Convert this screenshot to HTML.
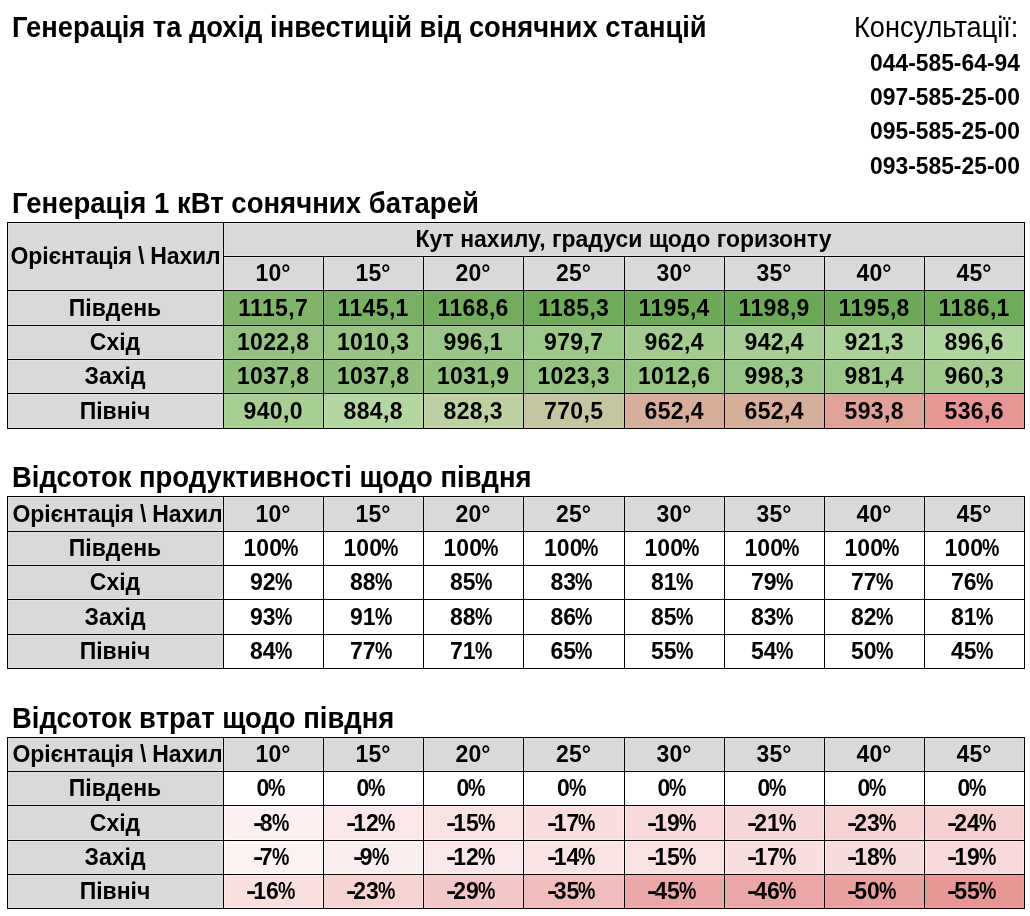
<!DOCTYPE html>
<html><head><meta charset="utf-8"><style>
html,body{margin:0;padding:0;background:#fff;-webkit-font-smoothing:antialiased;}
body{width:1030px;height:916px;position:relative;overflow:hidden;font-family:"Liberation Sans",sans-serif;color:#000;}
.c{position:absolute;display:flex;align-items:center;justify-content:center;font-weight:bold;font-size:23px;white-space:nowrap;}
.c span{position:relative;text-shadow:0 0 1px var(--h),0 0 1px var(--h);}
.c::before{content:"";position:absolute;left:1px;top:1px;right:0;bottom:0;border:1px solid var(--h);}
.pc{display:inline-block;transform:scaleX(.85);transform-origin:0 50%;margin-left:-1px;}
.hy{display:inline-block;transform:scaleX(1.35);transform-origin:0 50%;margin-right:-0.5px;}
i{position:absolute;background:#000;display:block;}
.tx{position:absolute;white-space:nowrap;line-height:1;}
#w{position:absolute;left:0;top:0;width:1030px;height:916px;will-change:transform;}
</style></head><body><div id="w">
<div class="tx" style="left:12px;top:13px;font-size:27px;font-weight:bold;transform:scale(1.012,1.08);transform-origin:0 0">Генерація та дохід інвестицій від сонячних станцій</div>
<div class="tx" style="right:12px;top:13px;font-size:27px;font-weight:normal;transform:scale(1.006,1.08);transform-origin:100% 0">Консультації:</div>
<div class="tx" style="right:10px;top:52px;font-size:23px;font-weight:bold;transform:scale(0.993,1.0);transform-origin:100% 0">044-585-64-94</div>
<div class="tx" style="right:10px;top:86px;font-size:23px;font-weight:bold;transform:scale(0.993,1.0);transform-origin:100% 0">097-585-25-00</div>
<div class="tx" style="right:10px;top:120px;font-size:23px;font-weight:bold;transform:scale(0.993,1.0);transform-origin:100% 0">095-585-25-00</div>
<div class="tx" style="right:10px;top:155px;font-size:23px;font-weight:bold;transform:scale(0.993,1.0);transform-origin:100% 0">093-585-25-00</div>
<div class="tx" style="left:12px;top:189px;font-size:27px;font-weight:bold;transform:scale(1.02,1.08);transform-origin:0 0">Генерація 1 кВт сонячних батарей</div>
<div class="tx" style="left:12px;top:463px;font-size:27px;font-weight:bold;transform:scale(1.016,1.08);transform-origin:0 0">Відсоток продуктивності щодо півдня</div>
<div class="tx" style="left:12px;top:704px;font-size:27px;font-weight:bold;transform:scale(1.017,1.08);transform-origin:0 0">Відсоток втрат щодо півдня</div>
<div class="c" style="left:7px;top:222px;width:216px;height:68px;background:#d9d9d9;--h:#e1e1e1"><span style="top:0.5px;letter-spacing:-0.18px;left:0.5px;">Орієнтація \ Нахил</span></div>
<div class="c" style="left:223px;top:222px;width:801px;height:34px;background:#d9d9d9;--h:#e1e1e1"><span style="top:0.5px;">Кут нахилу, градуси щодо горизонту</span></div>
<div class="c" style="left:223px;top:256px;width:100px;height:34px;background:#d9d9d9;--h:#e1e1e1"><span style="top:0.5px;">10°</span></div>
<div class="c" style="left:323px;top:256px;width:100px;height:34px;background:#d9d9d9;--h:#e1e1e1"><span style="top:0.5px;">15°</span></div>
<div class="c" style="left:423px;top:256px;width:100px;height:34px;background:#d9d9d9;--h:#e1e1e1"><span style="top:0.5px;">20°</span></div>
<div class="c" style="left:523px;top:256px;width:101px;height:34px;background:#d9d9d9;--h:#e1e1e1"><span style="top:0.5px;">25°</span></div>
<div class="c" style="left:624px;top:256px;width:100px;height:34px;background:#d9d9d9;--h:#e1e1e1"><span style="top:0.5px;">30°</span></div>
<div class="c" style="left:724px;top:256px;width:100px;height:34px;background:#d9d9d9;--h:#e1e1e1"><span style="top:0.5px;">35°</span></div>
<div class="c" style="left:824px;top:256px;width:100px;height:34px;background:#d9d9d9;--h:#e1e1e1"><span style="top:0.5px;">40°</span></div>
<div class="c" style="left:924px;top:256px;width:100px;height:34px;background:#d9d9d9;--h:#e1e1e1"><span style="top:0.5px;">45°</span></div>
<div class="c" style="left:7px;top:290px;width:216px;height:35px;background:#d9d9d9;--h:#e1e1e1"><span style="top:0.5px;">Південь</span></div>
<div class="c" style="left:223px;top:290px;width:100px;height:35px;background:#80b46b;--h:#84ba6f"><span style="top:0.5px;letter-spacing:0.35px;margin-right:-0.35px;">1115,7</span></div>
<div class="c" style="left:323px;top:290px;width:100px;height:35px;background:#79b065;--h:#7db669"><span style="top:0.5px;letter-spacing:0.35px;margin-right:-0.35px;">1145,1</span></div>
<div class="c" style="left:423px;top:290px;width:100px;height:35px;background:#74ac5f;--h:#78b262"><span style="top:0.5px;letter-spacing:0.35px;margin-right:-0.35px;">1168,6</span></div>
<div class="c" style="left:523px;top:290px;width:101px;height:35px;background:#70aa5b;--h:#74b05e"><span style="top:0.5px;letter-spacing:0.35px;margin-right:-0.35px;">1185,3</span></div>
<div class="c" style="left:624px;top:290px;width:100px;height:35px;background:#6ea959;--h:#72af5c"><span style="top:0.5px;letter-spacing:0.35px;margin-right:-0.35px;">1195,4</span></div>
<div class="c" style="left:724px;top:290px;width:100px;height:35px;background:#6da858;--h:#71ae5b"><span style="top:0.5px;letter-spacing:0.35px;margin-right:-0.35px;">1198,9</span></div>
<div class="c" style="left:824px;top:290px;width:100px;height:35px;background:#6ea859;--h:#72ae5c"><span style="top:0.5px;letter-spacing:0.35px;margin-right:-0.35px;">1195,8</span></div>
<div class="c" style="left:924px;top:290px;width:100px;height:35px;background:#70aa5b;--h:#74b05e"><span style="top:0.5px;letter-spacing:0.35px;margin-right:-0.35px;">1186,1</span></div>
<div class="c" style="left:7px;top:325px;width:216px;height:34px;background:#d9d9d9;--h:#e1e1e1"><span style="top:0.5px;">Схід</span></div>
<div class="c" style="left:223px;top:325px;width:100px;height:34px;background:#95c281;--h:#9ac986"><span style="top:0.5px;letter-spacing:0.35px;margin-right:-0.35px;">1022,8</span></div>
<div class="c" style="left:323px;top:325px;width:100px;height:34px;background:#98c484;--h:#9dcb89"><span style="top:0.5px;letter-spacing:0.35px;margin-right:-0.35px;">1010,3</span></div>
<div class="c" style="left:423px;top:325px;width:100px;height:34px;background:#9bc687;--h:#a0cd8c"><span style="top:0.5px;letter-spacing:0.35px;margin-right:-0.35px;">996,1</span></div>
<div class="c" style="left:523px;top:325px;width:101px;height:34px;background:#9fc88b;--h:#a5cf90"><span style="top:0.5px;letter-spacing:0.35px;margin-right:-0.35px;">979,7</span></div>
<div class="c" style="left:624px;top:325px;width:100px;height:34px;background:#a3cb8f;--h:#a9d294"><span style="top:0.5px;letter-spacing:0.35px;margin-right:-0.35px;">962,4</span></div>
<div class="c" style="left:724px;top:325px;width:100px;height:34px;background:#a7ce94;--h:#add599"><span style="top:0.5px;letter-spacing:0.35px;margin-right:-0.35px;">942,4</span></div>
<div class="c" style="left:824px;top:325px;width:100px;height:34px;background:#acd199;--h:#b2d89e"><span style="top:0.5px;letter-spacing:0.35px;margin-right:-0.35px;">921,3</span></div>
<div class="c" style="left:924px;top:325px;width:100px;height:34px;background:#b1d59e;--h:#b7dca4"><span style="top:0.5px;letter-spacing:0.35px;margin-right:-0.35px;">896,6</span></div>
<div class="c" style="left:7px;top:359px;width:216px;height:34px;background:#d9d9d9;--h:#e1e1e1"><span style="top:0.5px;">Захід</span></div>
<div class="c" style="left:223px;top:359px;width:100px;height:34px;background:#91c07d;--h:#96c781"><span style="top:0.5px;letter-spacing:0.35px;margin-right:-0.35px;">1037,8</span></div>
<div class="c" style="left:323px;top:359px;width:100px;height:34px;background:#91c07d;--h:#96c781"><span style="top:0.5px;letter-spacing:0.35px;margin-right:-0.35px;">1037,8</span></div>
<div class="c" style="left:423px;top:359px;width:100px;height:34px;background:#93c17f;--h:#98c883"><span style="top:0.5px;letter-spacing:0.35px;margin-right:-0.35px;">1031,9</span></div>
<div class="c" style="left:523px;top:359px;width:101px;height:34px;background:#95c281;--h:#9ac986"><span style="top:0.5px;letter-spacing:0.35px;margin-right:-0.35px;">1023,3</span></div>
<div class="c" style="left:624px;top:359px;width:100px;height:34px;background:#97c483;--h:#9ccb88"><span style="top:0.5px;letter-spacing:0.35px;margin-right:-0.35px;">1012,6</span></div>
<div class="c" style="left:724px;top:359px;width:100px;height:34px;background:#9ac687;--h:#9fcd8c"><span style="top:0.5px;letter-spacing:0.35px;margin-right:-0.35px;">998,3</span></div>
<div class="c" style="left:824px;top:359px;width:100px;height:34px;background:#9ec88b;--h:#a4cf90"><span style="top:0.5px;letter-spacing:0.35px;margin-right:-0.35px;">981,4</span></div>
<div class="c" style="left:924px;top:359px;width:100px;height:34px;background:#a3cb8f;--h:#a9d294"><span style="top:0.5px;letter-spacing:0.35px;margin-right:-0.35px;">960,3</span></div>
<div class="c" style="left:7px;top:393px;width:216px;height:35px;background:#d9d9d9;--h:#e1e1e1"><span style="top:0.5px;">Північ</span></div>
<div class="c" style="left:223px;top:393px;width:100px;height:35px;background:#a8ce94;--h:#aed599"><span style="top:0.5px;letter-spacing:0.35px;margin-right:-0.35px;">940,0</span></div>
<div class="c" style="left:323px;top:393px;width:100px;height:35px;background:#b4d6a1;--h:#badda7"><span style="top:0.5px;letter-spacing:0.35px;margin-right:-0.35px;">884,8</span></div>
<div class="c" style="left:423px;top:393px;width:100px;height:35px;background:#bed1a3;--h:#c5d8a9"><span style="top:0.5px;letter-spacing:0.35px;margin-right:-0.35px;">828,3</span></div>
<div class="c" style="left:523px;top:393px;width:101px;height:35px;background:#c6c5a1;--h:#cdcca7"><span style="top:0.5px;letter-spacing:0.35px;margin-right:-0.35px;">770,5</span></div>
<div class="c" style="left:624px;top:393px;width:100px;height:35px;background:#d7ad9b;--h:#dfb3a0"><span style="top:0.5px;letter-spacing:0.35px;margin-right:-0.35px;">652,4</span></div>
<div class="c" style="left:724px;top:393px;width:100px;height:35px;background:#d7ad9b;--h:#dfb3a0"><span style="top:0.5px;letter-spacing:0.35px;margin-right:-0.35px;">652,4</span></div>
<div class="c" style="left:824px;top:393px;width:100px;height:35px;background:#e0a199;--h:#e8a79e"><span style="top:0.5px;letter-spacing:0.35px;margin-right:-0.35px;">593,8</span></div>
<div class="c" style="left:924px;top:393px;width:100px;height:35px;background:#e89596;--h:#f09a9b"><span style="top:0.5px;letter-spacing:0.35px;margin-right:-0.35px;">536,6</span></div>
<i style="left:7px;top:222px;width:1018px;height:1px"></i>
<i style="left:223px;top:256px;width:802px;height:1px"></i>
<i style="left:7px;top:290px;width:1018px;height:1px"></i>
<i style="left:7px;top:325px;width:1018px;height:1px"></i>
<i style="left:7px;top:359px;width:1018px;height:1px"></i>
<i style="left:7px;top:393px;width:1018px;height:1px"></i>
<i style="left:7px;top:428px;width:1018px;height:1px"></i>
<i style="left:7px;top:222px;width:1px;height:207px"></i>
<i style="left:223px;top:222px;width:1px;height:207px"></i>
<i style="left:1024px;top:222px;width:1px;height:207px"></i>
<i style="left:323px;top:256px;width:1px;height:173px"></i>
<i style="left:423px;top:256px;width:1px;height:173px"></i>
<i style="left:523px;top:256px;width:1px;height:173px"></i>
<i style="left:624px;top:256px;width:1px;height:173px"></i>
<i style="left:724px;top:256px;width:1px;height:173px"></i>
<i style="left:824px;top:256px;width:1px;height:173px"></i>
<i style="left:924px;top:256px;width:1px;height:173px"></i>
<div class="c" style="left:7px;top:496px;width:216px;height:35px;background:#d9d9d9;--h:#e1e1e1"><span style="top:0.5px;letter-spacing:-0.18px;left:2.5px;">Орієнтація \ Нахил</span></div>
<div class="c" style="left:223px;top:496px;width:100px;height:35px;background:#d9d9d9;--h:#e1e1e1"><span style="top:0.5px;">10°</span></div>
<div class="c" style="left:323px;top:496px;width:100px;height:35px;background:#d9d9d9;--h:#e1e1e1"><span style="top:0.5px;">15°</span></div>
<div class="c" style="left:423px;top:496px;width:100px;height:35px;background:#d9d9d9;--h:#e1e1e1"><span style="top:0.5px;">20°</span></div>
<div class="c" style="left:523px;top:496px;width:101px;height:35px;background:#d9d9d9;--h:#e1e1e1"><span style="top:0.5px;">25°</span></div>
<div class="c" style="left:624px;top:496px;width:100px;height:35px;background:#d9d9d9;--h:#e1e1e1"><span style="top:0.5px;">30°</span></div>
<div class="c" style="left:724px;top:496px;width:100px;height:35px;background:#d9d9d9;--h:#e1e1e1"><span style="top:0.5px;">35°</span></div>
<div class="c" style="left:824px;top:496px;width:100px;height:35px;background:#d9d9d9;--h:#e1e1e1"><span style="top:0.5px;">40°</span></div>
<div class="c" style="left:924px;top:496px;width:100px;height:35px;background:#d9d9d9;--h:#e1e1e1"><span style="top:0.5px;">45°</span></div>
<div class="c" style="left:7px;top:531px;width:216px;height:34px;background:#d9d9d9;--h:#e1e1e1"><span style="top:0.5px;">Південь</span></div>
<div class="c" style="left:223px;top:531px;width:100px;height:34px;background:#ffffff;--h:#ffffff"><span style="top:0.5px;left:-0.5px;">100<b class="pc">%</b></span></div>
<div class="c" style="left:323px;top:531px;width:100px;height:34px;background:#ffffff;--h:#ffffff"><span style="top:0.5px;left:-0.5px;">100<b class="pc">%</b></span></div>
<div class="c" style="left:423px;top:531px;width:100px;height:34px;background:#ffffff;--h:#ffffff"><span style="top:0.5px;left:-0.5px;">100<b class="pc">%</b></span></div>
<div class="c" style="left:523px;top:531px;width:101px;height:34px;background:#ffffff;--h:#ffffff"><span style="top:0.5px;left:-0.5px;">100<b class="pc">%</b></span></div>
<div class="c" style="left:624px;top:531px;width:100px;height:34px;background:#ffffff;--h:#ffffff"><span style="top:0.5px;left:-0.5px;">100<b class="pc">%</b></span></div>
<div class="c" style="left:724px;top:531px;width:100px;height:34px;background:#ffffff;--h:#ffffff"><span style="top:0.5px;left:-0.5px;">100<b class="pc">%</b></span></div>
<div class="c" style="left:824px;top:531px;width:100px;height:34px;background:#ffffff;--h:#ffffff"><span style="top:0.5px;left:-0.5px;">100<b class="pc">%</b></span></div>
<div class="c" style="left:924px;top:531px;width:100px;height:34px;background:#ffffff;--h:#ffffff"><span style="top:0.5px;left:-0.5px;">100<b class="pc">%</b></span></div>
<div class="c" style="left:7px;top:565px;width:216px;height:34px;background:#d9d9d9;--h:#e1e1e1"><span style="top:0.5px;">Схід</span></div>
<div class="c" style="left:223px;top:565px;width:100px;height:34px;background:#ffffff;--h:#ffffff"><span style="top:0.5px;left:-0.5px;">92<b class="pc">%</b></span></div>
<div class="c" style="left:323px;top:565px;width:100px;height:34px;background:#ffffff;--h:#ffffff"><span style="top:0.5px;left:-0.5px;">88<b class="pc">%</b></span></div>
<div class="c" style="left:423px;top:565px;width:100px;height:34px;background:#ffffff;--h:#ffffff"><span style="top:0.5px;left:-0.5px;">85<b class="pc">%</b></span></div>
<div class="c" style="left:523px;top:565px;width:101px;height:34px;background:#ffffff;--h:#ffffff"><span style="top:0.5px;left:-0.5px;">83<b class="pc">%</b></span></div>
<div class="c" style="left:624px;top:565px;width:100px;height:34px;background:#ffffff;--h:#ffffff"><span style="top:0.5px;left:-0.5px;">81<b class="pc">%</b></span></div>
<div class="c" style="left:724px;top:565px;width:100px;height:34px;background:#ffffff;--h:#ffffff"><span style="top:0.5px;left:-0.5px;">79<b class="pc">%</b></span></div>
<div class="c" style="left:824px;top:565px;width:100px;height:34px;background:#ffffff;--h:#ffffff"><span style="top:0.5px;left:-0.5px;">77<b class="pc">%</b></span></div>
<div class="c" style="left:924px;top:565px;width:100px;height:34px;background:#ffffff;--h:#ffffff"><span style="top:0.5px;left:-0.5px;">76<b class="pc">%</b></span></div>
<div class="c" style="left:7px;top:599px;width:216px;height:35px;background:#d9d9d9;--h:#e1e1e1"><span style="top:0.5px;">Захід</span></div>
<div class="c" style="left:223px;top:599px;width:100px;height:35px;background:#ffffff;--h:#ffffff"><span style="top:0.5px;left:-0.5px;">93<b class="pc">%</b></span></div>
<div class="c" style="left:323px;top:599px;width:100px;height:35px;background:#ffffff;--h:#ffffff"><span style="top:0.5px;left:-0.5px;">91<b class="pc">%</b></span></div>
<div class="c" style="left:423px;top:599px;width:100px;height:35px;background:#ffffff;--h:#ffffff"><span style="top:0.5px;left:-0.5px;">88<b class="pc">%</b></span></div>
<div class="c" style="left:523px;top:599px;width:101px;height:35px;background:#ffffff;--h:#ffffff"><span style="top:0.5px;left:-0.5px;">86<b class="pc">%</b></span></div>
<div class="c" style="left:624px;top:599px;width:100px;height:35px;background:#ffffff;--h:#ffffff"><span style="top:0.5px;left:-0.5px;">85<b class="pc">%</b></span></div>
<div class="c" style="left:724px;top:599px;width:100px;height:35px;background:#ffffff;--h:#ffffff"><span style="top:0.5px;left:-0.5px;">83<b class="pc">%</b></span></div>
<div class="c" style="left:824px;top:599px;width:100px;height:35px;background:#ffffff;--h:#ffffff"><span style="top:0.5px;left:-0.5px;">82<b class="pc">%</b></span></div>
<div class="c" style="left:924px;top:599px;width:100px;height:35px;background:#ffffff;--h:#ffffff"><span style="top:0.5px;left:-0.5px;">81<b class="pc">%</b></span></div>
<div class="c" style="left:7px;top:634px;width:216px;height:34px;background:#d9d9d9;--h:#e1e1e1"><span style="top:0.5px;">Північ</span></div>
<div class="c" style="left:223px;top:634px;width:100px;height:34px;background:#ffffff;--h:#ffffff"><span style="top:0.5px;left:-0.5px;">84<b class="pc">%</b></span></div>
<div class="c" style="left:323px;top:634px;width:100px;height:34px;background:#ffffff;--h:#ffffff"><span style="top:0.5px;left:-0.5px;">77<b class="pc">%</b></span></div>
<div class="c" style="left:423px;top:634px;width:100px;height:34px;background:#ffffff;--h:#ffffff"><span style="top:0.5px;left:-0.5px;">71<b class="pc">%</b></span></div>
<div class="c" style="left:523px;top:634px;width:101px;height:34px;background:#ffffff;--h:#ffffff"><span style="top:0.5px;left:-0.5px;">65<b class="pc">%</b></span></div>
<div class="c" style="left:624px;top:634px;width:100px;height:34px;background:#ffffff;--h:#ffffff"><span style="top:0.5px;left:-0.5px;">55<b class="pc">%</b></span></div>
<div class="c" style="left:724px;top:634px;width:100px;height:34px;background:#ffffff;--h:#ffffff"><span style="top:0.5px;left:-0.5px;">54<b class="pc">%</b></span></div>
<div class="c" style="left:824px;top:634px;width:100px;height:34px;background:#ffffff;--h:#ffffff"><span style="top:0.5px;left:-0.5px;">50<b class="pc">%</b></span></div>
<div class="c" style="left:924px;top:634px;width:100px;height:34px;background:#ffffff;--h:#ffffff"><span style="top:0.5px;left:-0.5px;">45<b class="pc">%</b></span></div>
<i style="left:7px;top:496px;width:1018px;height:1px"></i>
<i style="left:7px;top:531px;width:1018px;height:1px"></i>
<i style="left:7px;top:565px;width:1018px;height:1px"></i>
<i style="left:7px;top:599px;width:1018px;height:1px"></i>
<i style="left:7px;top:634px;width:1018px;height:1px"></i>
<i style="left:7px;top:668px;width:1018px;height:1px"></i>
<i style="left:7px;top:496px;width:1px;height:173px"></i>
<i style="left:223px;top:496px;width:1px;height:173px"></i>
<i style="left:323px;top:496px;width:1px;height:173px"></i>
<i style="left:423px;top:496px;width:1px;height:173px"></i>
<i style="left:523px;top:496px;width:1px;height:173px"></i>
<i style="left:624px;top:496px;width:1px;height:173px"></i>
<i style="left:724px;top:496px;width:1px;height:173px"></i>
<i style="left:824px;top:496px;width:1px;height:173px"></i>
<i style="left:924px;top:496px;width:1px;height:173px"></i>
<i style="left:1024px;top:496px;width:1px;height:173px"></i>
<div class="c" style="left:7px;top:737px;width:216px;height:34px;background:#d9d9d9;--h:#e1e1e1"><span style="top:0.5px;letter-spacing:-0.18px;left:2.5px;">Орієнтація \ Нахил</span></div>
<div class="c" style="left:223px;top:737px;width:100px;height:34px;background:#d9d9d9;--h:#e1e1e1"><span style="top:0.5px;">10°</span></div>
<div class="c" style="left:323px;top:737px;width:100px;height:34px;background:#d9d9d9;--h:#e1e1e1"><span style="top:0.5px;">15°</span></div>
<div class="c" style="left:423px;top:737px;width:100px;height:34px;background:#d9d9d9;--h:#e1e1e1"><span style="top:0.5px;">20°</span></div>
<div class="c" style="left:523px;top:737px;width:101px;height:34px;background:#d9d9d9;--h:#e1e1e1"><span style="top:0.5px;">25°</span></div>
<div class="c" style="left:624px;top:737px;width:100px;height:34px;background:#d9d9d9;--h:#e1e1e1"><span style="top:0.5px;">30°</span></div>
<div class="c" style="left:724px;top:737px;width:100px;height:34px;background:#d9d9d9;--h:#e1e1e1"><span style="top:0.5px;">35°</span></div>
<div class="c" style="left:824px;top:737px;width:100px;height:34px;background:#d9d9d9;--h:#e1e1e1"><span style="top:0.5px;">40°</span></div>
<div class="c" style="left:924px;top:737px;width:100px;height:34px;background:#d9d9d9;--h:#e1e1e1"><span style="top:0.5px;">45°</span></div>
<div class="c" style="left:7px;top:771px;width:216px;height:34px;background:#d9d9d9;--h:#e1e1e1"><span style="top:0.5px;">Південь</span></div>
<div class="c" style="left:223px;top:771px;width:100px;height:34px;background:#ffffff;--h:#ffffff"><span style="top:0.5px;left:-0.5px;">0<b class="pc">%</b></span></div>
<div class="c" style="left:323px;top:771px;width:100px;height:34px;background:#ffffff;--h:#ffffff"><span style="top:0.5px;left:-0.5px;">0<b class="pc">%</b></span></div>
<div class="c" style="left:423px;top:771px;width:100px;height:34px;background:#ffffff;--h:#ffffff"><span style="top:0.5px;left:-0.5px;">0<b class="pc">%</b></span></div>
<div class="c" style="left:523px;top:771px;width:101px;height:34px;background:#ffffff;--h:#ffffff"><span style="top:0.5px;left:-0.5px;">0<b class="pc">%</b></span></div>
<div class="c" style="left:624px;top:771px;width:100px;height:34px;background:#ffffff;--h:#ffffff"><span style="top:0.5px;left:-0.5px;">0<b class="pc">%</b></span></div>
<div class="c" style="left:724px;top:771px;width:100px;height:34px;background:#ffffff;--h:#ffffff"><span style="top:0.5px;left:-0.5px;">0<b class="pc">%</b></span></div>
<div class="c" style="left:824px;top:771px;width:100px;height:34px;background:#ffffff;--h:#ffffff"><span style="top:0.5px;left:-0.5px;">0<b class="pc">%</b></span></div>
<div class="c" style="left:924px;top:771px;width:100px;height:34px;background:#ffffff;--h:#ffffff"><span style="top:0.5px;left:-0.5px;">0<b class="pc">%</b></span></div>
<div class="c" style="left:7px;top:805px;width:216px;height:35px;background:#d9d9d9;--h:#e1e1e1"><span style="top:0.5px;">Схід</span></div>
<div class="c" style="left:223px;top:805px;width:100px;height:35px;background:#fcf0f0;--h:#fff8f8"><span style="top:0.5px;left:-0.75px;"><b class="hy">-</b>8<b class="pc">%</b></span></div>
<div class="c" style="left:323px;top:805px;width:100px;height:35px;background:#fae8e8;--h:#fff0f0"><span style="top:0.5px;left:-0.75px;"><b class="hy">-</b>12<b class="pc">%</b></span></div>
<div class="c" style="left:423px;top:805px;width:100px;height:35px;background:#f9e2e2;--h:#ffeaea"><span style="top:0.5px;left:-0.75px;"><b class="hy">-</b>15<b class="pc">%</b></span></div>
<div class="c" style="left:523px;top:805px;width:101px;height:35px;background:#f8dedf;--h:#ffe6e7"><span style="top:0.5px;left:-0.75px;"><b class="hy">-</b>17<b class="pc">%</b></span></div>
<div class="c" style="left:624px;top:805px;width:100px;height:35px;background:#f7dadb;--h:#ffe2e3"><span style="top:0.5px;left:-0.75px;"><b class="hy">-</b>19<b class="pc">%</b></span></div>
<div class="c" style="left:724px;top:805px;width:100px;height:35px;background:#f6d7d7;--h:#ffdfdf"><span style="top:0.5px;left:-0.75px;"><b class="hy">-</b>21<b class="pc">%</b></span></div>
<div class="c" style="left:824px;top:805px;width:100px;height:35px;background:#f5d3d3;--h:#fedada"><span style="top:0.5px;left:-0.75px;"><b class="hy">-</b>23<b class="pc">%</b></span></div>
<div class="c" style="left:924px;top:805px;width:100px;height:35px;background:#f5d1d1;--h:#fed8d8"><span style="top:0.5px;left:-0.75px;"><b class="hy">-</b>24<b class="pc">%</b></span></div>
<div class="c" style="left:7px;top:840px;width:216px;height:34px;background:#d9d9d9;--h:#e1e1e1"><span style="top:0.5px;">Захід</span></div>
<div class="c" style="left:223px;top:840px;width:100px;height:34px;background:#fcf2f2;--h:#fffafa"><span style="top:0.5px;left:-0.75px;"><b class="hy">-</b>7<b class="pc">%</b></span></div>
<div class="c" style="left:323px;top:840px;width:100px;height:34px;background:#fbeeee;--h:#fff6f6"><span style="top:0.5px;left:-0.75px;"><b class="hy">-</b>9<b class="pc">%</b></span></div>
<div class="c" style="left:423px;top:840px;width:100px;height:34px;background:#fae8e8;--h:#fff0f0"><span style="top:0.5px;left:-0.75px;"><b class="hy">-</b>12<b class="pc">%</b></span></div>
<div class="c" style="left:523px;top:840px;width:101px;height:34px;background:#f9e4e4;--h:#ffecec"><span style="top:0.5px;left:-0.75px;"><b class="hy">-</b>14<b class="pc">%</b></span></div>
<div class="c" style="left:624px;top:840px;width:100px;height:34px;background:#f9e2e2;--h:#ffeaea"><span style="top:0.5px;left:-0.75px;"><b class="hy">-</b>15<b class="pc">%</b></span></div>
<div class="c" style="left:724px;top:840px;width:100px;height:34px;background:#f8dedf;--h:#ffe6e7"><span style="top:0.5px;left:-0.75px;"><b class="hy">-</b>17<b class="pc">%</b></span></div>
<div class="c" style="left:824px;top:840px;width:100px;height:34px;background:#f7dcdd;--h:#ffe4e5"><span style="top:0.5px;left:-0.75px;"><b class="hy">-</b>18<b class="pc">%</b></span></div>
<div class="c" style="left:924px;top:840px;width:100px;height:34px;background:#f7dadb;--h:#ffe2e3"><span style="top:0.5px;left:-0.75px;"><b class="hy">-</b>19<b class="pc">%</b></span></div>
<div class="c" style="left:7px;top:874px;width:216px;height:34px;background:#d9d9d9;--h:#e1e1e1"><span style="top:0.5px;">Північ</span></div>
<div class="c" style="left:223px;top:874px;width:100px;height:34px;background:#f8e0e0;--h:#ffe8e8"><span style="top:0.5px;left:-0.75px;"><b class="hy">-</b>16<b class="pc">%</b></span></div>
<div class="c" style="left:323px;top:874px;width:100px;height:34px;background:#f5d3d3;--h:#fedada"><span style="top:0.5px;left:-0.75px;"><b class="hy">-</b>23<b class="pc">%</b></span></div>
<div class="c" style="left:423px;top:874px;width:100px;height:34px;background:#f3c7c8;--h:#fccecf"><span style="top:0.5px;left:-0.75px;"><b class="hy">-</b>29<b class="pc">%</b></span></div>
<div class="c" style="left:523px;top:874px;width:101px;height:34px;background:#f0bcbc;--h:#f8c3c3"><span style="top:0.5px;left:-0.75px;"><b class="hy">-</b>35<b class="pc">%</b></span></div>
<div class="c" style="left:624px;top:874px;width:100px;height:34px;background:#eca8a9;--h:#f4aeaf"><span style="top:0.5px;left:-0.75px;"><b class="hy">-</b>45<b class="pc">%</b></span></div>
<div class="c" style="left:724px;top:874px;width:100px;height:34px;background:#eca6a7;--h:#f4acad"><span style="top:0.5px;left:-0.75px;"><b class="hy">-</b>46<b class="pc">%</b></span></div>
<div class="c" style="left:824px;top:874px;width:100px;height:34px;background:#ea9fa0;--h:#f2a5a6"><span style="top:0.5px;left:-0.75px;"><b class="hy">-</b>50<b class="pc">%</b></span></div>
<div class="c" style="left:924px;top:874px;width:100px;height:34px;background:#e89596;--h:#f09a9b"><span style="top:0.5px;left:-0.75px;"><b class="hy">-</b>55<b class="pc">%</b></span></div>
<i style="left:7px;top:737px;width:1018px;height:1px"></i>
<i style="left:7px;top:771px;width:1018px;height:1px"></i>
<i style="left:7px;top:805px;width:1018px;height:1px"></i>
<i style="left:7px;top:840px;width:1018px;height:1px"></i>
<i style="left:7px;top:874px;width:1018px;height:1px"></i>
<i style="left:7px;top:908px;width:1018px;height:1px"></i>
<i style="left:7px;top:737px;width:1px;height:172px"></i>
<i style="left:223px;top:737px;width:1px;height:172px"></i>
<i style="left:323px;top:737px;width:1px;height:172px"></i>
<i style="left:423px;top:737px;width:1px;height:172px"></i>
<i style="left:523px;top:737px;width:1px;height:172px"></i>
<i style="left:624px;top:737px;width:1px;height:172px"></i>
<i style="left:724px;top:737px;width:1px;height:172px"></i>
<i style="left:824px;top:737px;width:1px;height:172px"></i>
<i style="left:924px;top:737px;width:1px;height:172px"></i>
<i style="left:1024px;top:737px;width:1px;height:172px"></i>
</div></body></html>
